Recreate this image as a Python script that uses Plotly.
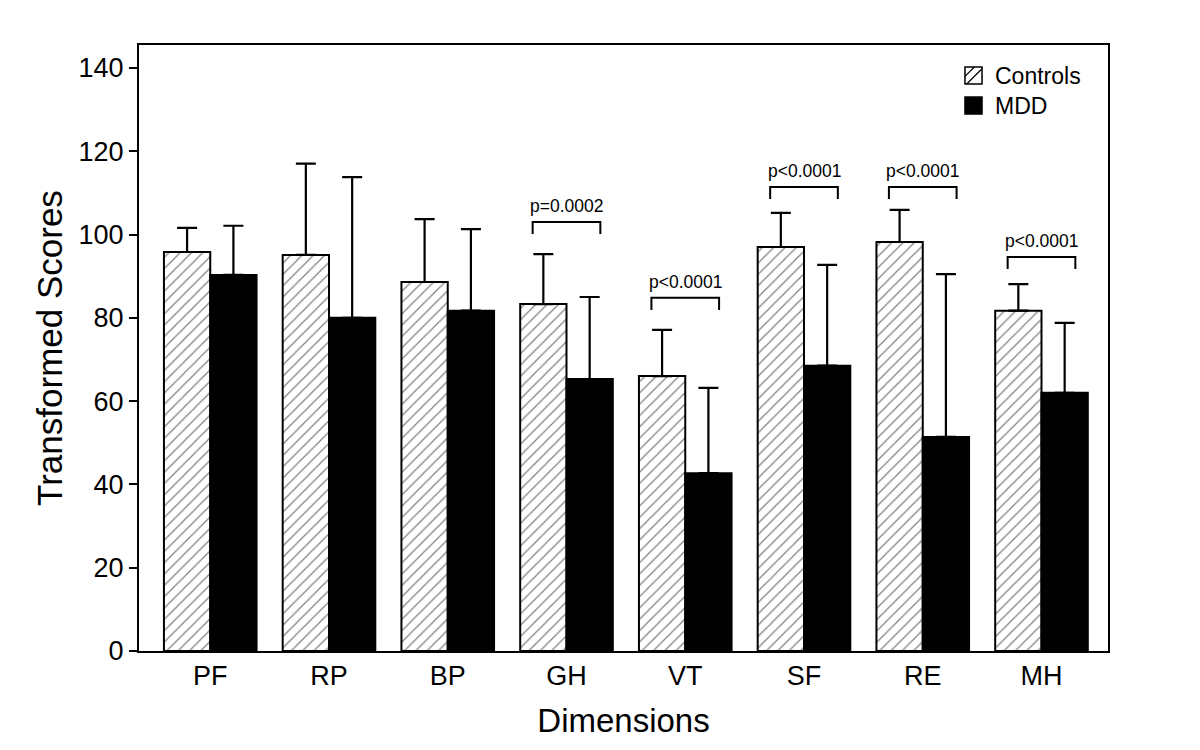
import plotly.graph_objects as go

categories = ["PF", "RP", "BP", "GH", "VT", "SF", "RE", "MH"]
controls_mean = [95.8, 95.1, 88.6, 83.3, 66.0, 97.0, 98.2, 81.7]
controls_sd = [5.8, 21.9, 15.1, 12.0, 11.1, 8.2, 7.7, 6.4]
mdd_mean = [90.3, 80.0, 81.7, 65.3, 42.7, 68.5, 51.4, 62.0]
mdd_sd = [11.8, 33.8, 19.6, 19.7, 20.5, 24.2, 39.1, 16.8]

# significance brackets: category index, label, bracket top level
sig_index = [3, 4, 5, 6, 7]
sig_labels = ["p=0.0002", "p<0.0001", "p<0.0001", "p<0.0001", "p<0.0001"]
sig_level = [103.0, 84.8, 111.4, 111.4, 94.6]

legend_names = ["Controls", "MDD"]

FONT = "Liberation Sans, Arial, Helvetica, sans-serif"

fig = go.Figure()
fig.add_trace(go.Bar(
    name=legend_names[0], x=list(range(len(categories))), y=controls_mean,
    marker=dict(color="white", line=dict(color="black", width=2),
                pattern=dict(shape="/", fgcolor="black", bgcolor="white", size=8, solidity=0.15)),
    error_y=dict(type="data", array=controls_sd, arrayminus=[0]*len(categories),
                 color="black", thickness=2.2, width=10),
))
fig.add_trace(go.Bar(
    name=legend_names[1], x=list(range(len(categories))), y=mdd_mean,
    marker=dict(color="black", line=dict(color="black", width=2)),
    error_y=dict(type="data", array=mdd_sd, arrayminus=[0]*len(categories),
                 color="black", thickness=2.2, width=10),
))

half = 0.285
drop = 2.9
for i, lab, lvl in zip(sig_index, sig_labels, sig_level):
    fig.add_shape(type="path",
                  path=f"M {i-half},{lvl-drop} L {i-half},{lvl} L {i+half},{lvl} L {i+half},{lvl-drop}",
                  xref="x", yref="y", line=dict(color="black", width=2))
    fig.add_annotation(x=i, y=lvl + 0.9, xref="x", yref="y", text=lab, showarrow=False,
                       yanchor="bottom", font=dict(family=FONT, size=17.5, color="black"))

# custom legend (larger swatches, like the reference)
sx0, sx1 = 0.8524, 0.870
rows = [(0.9356, 0.9637), (0.886, 0.914)]
y0, y1 = rows[0]
fig.add_shape(type="rect", xref="paper", yref="paper", x0=sx0, x1=sx1, y0=y0, y1=y1,
              line=dict(color="black", width=1.5), fillcolor="white")
w, h = sx1 - sx0, y1 - y0
fig.add_shape(type="line", xref="paper", yref="paper", x0=sx0, y0=y0 + 0.45 * h, x1=sx0 + 0.55 * w, y1=y1,
              line=dict(color="black", width=1.2))
fig.add_shape(type="line", xref="paper", yref="paper", x0=sx0 + 0.1 * w, y0=y0, x1=sx1, y1=y1 - 0.1 * h,
              line=dict(color="black", width=1.2))
y0, y1 = rows[1]
fig.add_shape(type="rect", xref="paper", yref="paper", x0=sx0, x1=sx1, y0=y0, y1=y1,
              line=dict(color="black", width=1.5), fillcolor="black")
for name, (ya, yb) in zip(legend_names, rows):
    fig.add_annotation(x=0.8813, y=(ya + yb) / 2, xref="paper", yref="paper", text=name,
                       showarrow=False, xanchor="left", yanchor="middle",
                       font=dict(family=FONT, size=23, color="black"))

fig.update_layout(
    width=1192, height=742,
    paper_bgcolor="white", plot_bgcolor="white",
    margin=dict(l=131, r=92, t=37, b=99),
    barmode="group", bargap=0.22, bargroupgap=0,
    showlegend=False,
    font=dict(family=FONT, color="black"),
)
fig.update_xaxes(
    range=[-0.6, 7.56], tickmode="array", tickvals=list(range(len(categories))),
    ticktext=categories, showline=True, linecolor="black", linewidth=2, mirror=True,
    ticks="", showgrid=False, zeroline=False,
    tickfont=dict(family=FONT, size=27, color="black"),
    title=dict(text="Dimensions", font=dict(family=FONT, size=33, color="black"), standoff=18),
)
fig.update_yaxes(
    range=[0, 145.5], tickmode="array", tickvals=[0, 20, 40, 60, 80, 100, 120, 140],
    showline=True, linecolor="black", linewidth=2, mirror=True,
    ticks="outside", ticklen=8, tickwidth=2, tickcolor="black",
    showgrid=False, zeroline=False,
    tickfont=dict(family=FONT, size=27, color="black"),
    title=dict(text="Transformed Scores", font=dict(family=FONT, size=35, color="black"), standoff=5),
)

fig.write_html("out.html")
